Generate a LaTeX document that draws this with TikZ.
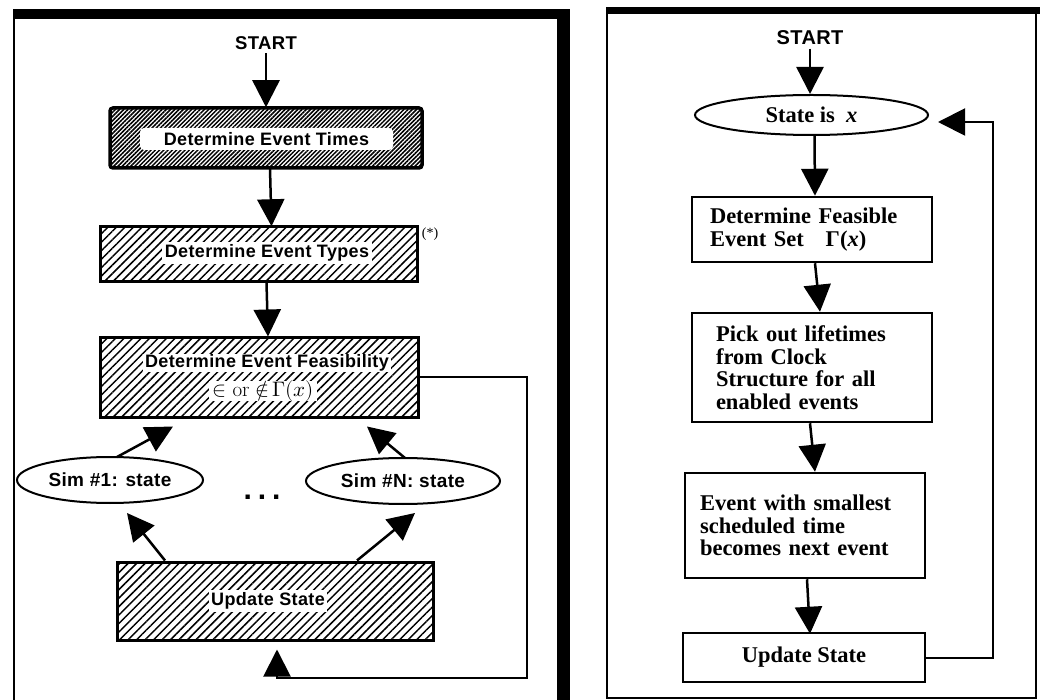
\documentclass[tikz,border=0pt]{standalone}
\usepackage{fontspec}
\usepackage{unicode-math}
\usetikzlibrary{arrows.meta,patterns.meta,shapes.geometric,calc}
\newfontfamily\hv[LetterSpace=2]{Liberation Sans}
\newfontfamily\tm{Liberation Serif}

\begin{document}
\begin{tikzpicture}[x=1pt,y=-1pt,
  arr/.style={-{Triangle[length=27pt,width=27pt]},line width=2.5pt},
  loopline/.style={-{Triangle[length=27pt,width=27pt]},line width=2pt},
  sans/.style={font=\hv\bfseries\fontsize{18}{20}\selectfont},
  serifb/.style={font=\tm\bfseries\fontsize{22.5}{22.5}\selectfont},
  hatch/.style={draw,line width=3pt,pattern={Lines[angle=45,distance=6pt,line width=1.5pt]}},
  darkhatch/.style={draw,line width=3.5pt,rounded corners=3pt,
    pattern={Lines[angle=45,distance=3pt,line width=1.5pt]}},
  tag/.style={sans,fill=white,inner sep=2.5pt},
  plainbox/.style={draw,line width=2.5pt,serifb,align=left},
  oval/.style={draw,ellipse,line width=2pt,inner sep=0pt}]

\useasboundingbox (0,0) rectangle (1044,700);

% ---------- left frame ----------
\fill (13,9) rectangle (570,19);
\fill (557,9) rectangle (570,700);
\draw[line width=1.5pt] (13.75,19) -- (13.75,700);

% ---------- right frame ----------
\fill (606,7) rectangle (1040,14);
\draw[line width=1.5pt] (607,14) -- (607,698) -- (1036,698) -- (1036,14);

% ---------- left flow chart ----------
\node[font=\hv\bfseries\fontsize{18.5}{20}\selectfont] (s1) at (266,43) {START};

\node[darkhatch,minimum width=312pt,minimum height=60pt] (times) at (266,138) {};
\node[tag,rounded corners=4pt,minimum width=253pt,minimum height=22pt] (timesL) at (266.5,139) {Determine Event Times};

\node[hatch,minimum width=317pt,minimum height=55pt] (types) at (258.5,254.5) {};
\node[tag] (typesL) at (267,253) {Determine Event Types};
\node[font=\tm\fontsize{14}{14}\selectfont] (star) at (430,234) {(*)};

\node[hatch,minimum width=318pt,minimum height=79pt] (feas) at (259,377.5) {};
\node[tag,inner ysep=0.5pt] (feasL) at (267,363) {Determine Event Feasibility};
\node[fill=white,inner xsep=3pt,inner ysep=0pt,font=\fontsize{21}{21}\selectfont] (feasM) at (263,391) {$\in$ or $\notin\!\Gamma(x)$};

\node[oval,minimum width=186pt,minimum height=46pt,font=\hv\bfseries\fontsize{19}{20}\selectfont] (sim1) at (110,480) {Sim \#1: state};
\node[oval,minimum width=194pt,minimum height=46pt,font=\hv\bfseries\fontsize{19}{20}\selectfont] (simN) at (403,481) {Sim \#N: state};
\node[font=\hv\bfseries\fontsize{30}{30}\selectfont] (dots) at (262,497) {.\hspace{6pt}.\hspace{6pt}.};

\node[hatch,minimum width=316pt,minimum height=78pt] (upd) at (275,601) {};
\node[tag] (updL) at (268,601) {Update State};

\draw[arr] (s1.south) -- (s1.south |- times.north);
\draw[arr] ($(times.south)+(4,0)$) -- ($(types.north)+(13,0)$);
\draw[arr] ($(types.south)+(8,0)$) -- ($(feas.north)+(9,0)$);
\draw[arr] ($(sim1.north)+(7,1)$) -- ($(feas.south)+(-86,8)$);
\draw[arr] ($(simN.north)+(2,1)$) -- ($(feas.south)+(108,8)$);
\draw[arr] ($(upd.north)+(-110,0)$) -- ($(sim1.south)+(17,9)$);
\draw[arr] ($(upd.north)+(82,0)$) -- ($(simN.south)+(12,8)$);
\coordinate (lcorner) at (527,678);
\draw[loopline] (feas.east) -| (lcorner) -| ($(upd.south)+(2,8)$);

% ---------- right flow chart ----------
\node[font=\hv\bfseries\fontsize{20}{20}\selectfont] (s2) at (810,38) {START};

\node[oval,minimum width=233pt,minimum height=40pt,serifb] (state) at (811.5,115) {State is\enspace\textit{x}};

\node[plainbox,minimum height=65pt,text width=204pt,inner xsep=18pt] (fset) at (812,229.5)
  {Determine Feasible\\Event Set\hspace{22pt}Γ(\textit{x})};

\node[plainbox,minimum height=109pt,text width=192pt,inner xsep=24pt] (pick) at (812,367.5)
  {Pick out lifetimes\\from Clock\\Structure for all\\enabled events};

\node[plainbox,minimum height=105pt,text width=210pt,inner xsep=15pt] (event) at (805,525.5)
  {Event with smallest\\scheduled time\\becomes next event};

\node[plainbox,minimum width=242pt,minimum height=49pt,align=center] (upd2) at (804,657.5) {Update State};

\draw[arr] (s2.south) -- (s2.south |- state.north);
\draw[arr] ($(state.south)+(3,0)$) -- ($(fset.north)+(3,0)$);
\draw[arr] ($(fset.south)+(3,0)$) -- ($(pick.north)+(8,0)$);
\draw[arr] ($(pick.south)+(-2,0)$) -- ($(event.north)+(10,0)$);
\draw[arr] ($(event.south)+(2,0)$) -- ($(upd2.north)+(6,2)$);
\coordinate (rcorner) at (993,122);
\draw[loopline] (upd2.east) -| (rcorner) -- ($(state.east)+(9,7)$);

\end{tikzpicture}
\end{document}
